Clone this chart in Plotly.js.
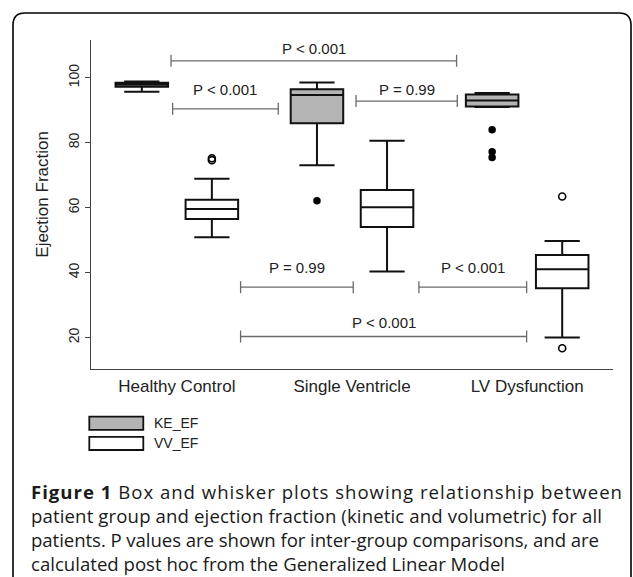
<!DOCTYPE html>
<html><head><meta charset="utf-8">
<script src="https://cdn.plot.ly/plotly-3.0.1.min.js"></script>
<style>html,body{margin:0;padding:0;background:#fff;overflow:hidden}#chart{width:633px;height:577px}</style>
</head><body><div id="chart"></div>
<script>
// ---------- data ----------
const categories = ['Healthy Control', 'Single Ventricle', 'LV Dysfunction'];
const seriesNames = ['KE_EF', 'VV_EF'];

// KE_EF (kinetic) box statistics per category
const keLower  = [95.7, 73.0, 91.0];
const keQ1     = [97.2, 86.0, 91.1];
const keMedian = [97.9, 94.7, 93.0];
const keQ3     = [98.4, 96.4, 94.8];
const keUpper  = [98.8, 98.5, 95.3];
const keOutlierCat   = [1, 2, 2, 2];
const keOutlierValue = [62.1, 84.0, 77.2, 75.4];

// VV_EF (volumetric) box statistics per category
const vvLower  = [50.9, 40.3, 20.0];
const vvQ1     = [56.5, 54.0, 35.2];
const vvMedian = [59.6, 60.1, 41.0];
const vvQ3     = [62.4, 65.4, 45.4];
const vvUpper  = [68.9, 80.6, 49.7];
const vvOutlierCat   = [0, 0, 2, 2];
const vvOutlierValue = [75.2, 74.6, 63.4, 16.7];

// inter-group comparisons
const pLabels     = ['P < 0.001', 'P < 0.001', 'P = 0.99', 'P = 0.99', 'P < 0.001', 'P < 0.001'];
const pStart      = [0.967, 0.976, 2.023, 1.364, 2.382, 1.364];
const pEnd        = [2.597, 1.579, 2.601, 2.007, 2.997, 2.997];
const pLevel      = [105.2, 90.4, 92.8, 35.5, 35.5, 20.3];
const pLabelLevel = [109.0, 96.4, 96.4, 41.4, 41.4, 24.6];

const yTicks = [20, 40, 60, 80, 100];
const yTitle = 'Ejection Fraction';
const captionBold = 'Figure 1';
const captionLines = [
  ' Box and whisker plots showing relationship between',
  'patient group and ejection fraction (kinetic and volumetric) for all',
  'patients. P values are shown for inter-group comparisons, and are',
  'calculated post hoc from the Generalized Linear Model'
];

// ---------- layout geometry ----------
const W = 633, H = 577;
const M = {l: 91, r: 20, t: 40, b: 208};
const PW = W - M.l - M.r, PH = H - M.t - M.b;
const px = x => (x - M.l) / PW;           // pixel -> paper x
const py = y => (H - M.b - y) / PH;       // pixel -> paper y
const OFF = 0.2, BW = 0.3;
const FONT = 'Liberation Sans, Arial, sans-serif';
const KE_FILL = '#b4b4b4';
const INK = '#111';

const traces = [];
traces.push({
  type: 'box', name: seriesNames[0],
  x: categories.map((c, i) => i + 1 - OFF),
  lowerfence: keLower, q1: keQ1, median: keMedian, q3: keQ3, upperfence: keUpper,
  width: BW, whiskerwidth: 0.67, fillcolor: KE_FILL,
  line: {color: INK, width: 2}, boxpoints: false, showlegend: false, hoverinfo: 'y'
});
traces.push({
  type: 'box', name: seriesNames[1],
  x: categories.map((c, i) => i + 1 + OFF),
  lowerfence: vvLower, q1: vvQ1, median: vvMedian, q3: vvQ3, upperfence: vvUpper,
  width: BW, whiskerwidth: 0.67, fillcolor: '#ffffff',
  line: {color: INK, width: 2}, boxpoints: false, showlegend: false, hoverinfo: 'y'
});
traces.push({
  type: 'scatter', mode: 'markers', name: seriesNames[0] + ' outliers',
  x: keOutlierCat.map(i => i + 1 - OFF), y: keOutlierValue,
  marker: {symbol: 'circle', size: 7.5, color: '#000'}, showlegend: false, hoverinfo: 'y'
});
traces.push({
  type: 'scatter', mode: 'markers', name: seriesNames[1] + ' outliers',
  x: vvOutlierCat.map(i => i + 1 + OFF), y: vvOutlierValue,
  marker: {symbol: 'circle-open', size: 7, color: '#000', line: {width: 1.6, color: '#000'}},
  showlegend: false, hoverinfo: 'y'
});

// comparison brackets
const TICKH = 1.85;
const bx = [], by = [];
pLabels.forEach((l, i) => {
  bx.push(pStart[i], pStart[i], null, pStart[i], pEnd[i], null, pEnd[i], pEnd[i], null);
  by.push(pLevel[i] - TICKH, pLevel[i] + TICKH, null, pLevel[i], pLevel[i], null, pLevel[i] - TICKH, pLevel[i] + TICKH, null);
});
traces.push({
  type: 'scatter', mode: 'lines', x: bx, y: by, line: {color: '#6a6a6a', width: 1.3},
  showlegend: false, hoverinfo: 'skip', connectgaps: false
});

const annotations = pLabels.map((l, i) => ({
  text: l, x: (pStart[i] + pEnd[i]) / 2, y: pLabelLevel[i], xref: 'x', yref: 'y',
  showarrow: false, xanchor: 'center', yanchor: 'middle',
  font: {family: FONT, size: 15, color: '#222'}
}));

// y title
annotations.push({
  text: yTitle, xref: 'paper', yref: 'paper', x: px(41.7), y: py(194),
  textangle: -90, showarrow: false, xanchor: 'center', yanchor: 'middle',
  font: {family: FONT, size: 17, color: '#222'}
});

// legend (drawn to match the R-style legend)
const legendRows = [423.3, 443.4];
const legendFills = [KE_FILL, '#ffffff'];
const shapes = [];
seriesNames.forEach((s, i) => {
  shapes.push({
    type: 'rect', xref: 'paper', yref: 'paper',
    x0: px(89.3), x1: px(143.3), y0: py(legendRows[i] - 6.6), y1: py(legendRows[i] + 6.6),
    fillcolor: legendFills[i], line: {color: INK, width: 1.8}
  });
  annotations.push({
    text: s, xref: 'paper', yref: 'paper', x: px(152), y: py(legendRows[i]),
    showarrow: false, xanchor: 'left', yanchor: 'middle',
    font: {family: FONT, size: 14, color: '#222'}
  });
});

// caption
const capY = [491, 515.2, 539.4, 563.6];
const capWidth = [591, 571, 568, 0];   // justified line widths (0 = natural)
const capStartIdx = annotations.length;
captionLines.forEach((t, i) => {
  annotations.push({
    text: (i === 0 ? '<b>' + captionBold + '</b>' : '') + t,
    xref: 'paper', yref: 'paper', x: px(29), y: py(capY[i]),
    showarrow: false, xanchor: 'left', yanchor: 'middle', align: 'left',
    font: {family: 'Open Sans, sans-serif', size: 18.6, color: '#1a1a1a'}
  });
});

// outer rounded frame
const fr = {l: 13, t: 13, r: 631, b: 620, rad: 12};
const P = (x, y) => px(x) + ',' + py(y);
shapes.push({
  type: 'path', xref: 'paper', yref: 'paper',
  path: 'M' + P(fr.l, fr.b) + ' L' + P(fr.l, fr.t + fr.rad) +
        ' Q' + P(fr.l, fr.t) + ' ' + P(fr.l + fr.rad, fr.t) +
        ' L' + P(fr.r - fr.rad, fr.t) +
        ' Q' + P(fr.r, fr.t) + ' ' + P(fr.r, fr.t + fr.rad) +
        ' L' + P(fr.r, fr.b),
  line: {color: '#000', width: 1.6}
});

const layout = {
  width: W, height: H, margin: M,
  paper_bgcolor: '#fff', plot_bgcolor: '#fff',
  showlegend: false,
  xaxis: {
    range: [0.51, 3.49], tickvals: categories.map((c, i) => i + 1), ticktext: categories,
    showgrid: false, zeroline: false, showline: true, linecolor: '#444', linewidth: 1.3,
    ticks: '', ticklabelstandoff: 1,
    tickfont: {family: FONT, size: 17, color: '#222'}
  },
  yaxis: {
    range: [10.3, 111.6], tickvals: yTicks, ticktext: yTicks.map(String),
    showgrid: false, zeroline: false, showline: true, linecolor: '#444', linewidth: 1.3,
    ticks: 'outside', ticklen: 5, tickcolor: '#444', tickwidth: 1.2, tickangle: -90,
    tickfont: {family: FONT, size: 14, color: '#222'}
  },
  annotations: annotations,
  shapes: shapes
};

Plotly.newPlot('chart', traces, layout, {displayModeBar: false, staticPlot: true}).then(gd => {
  // justify the caption lines like the printed figure
  const groups = gd.querySelectorAll('.annotation');
  groups.forEach(g => {
    const idx = +g.getAttribute('data-index');
    const k = idx - capStartIdx;
    if (k >= 0 && k < capWidth.length && capWidth[k] > 0) {
      const t = g.querySelector('text.annotation-text');
      if (t) {
        t.setAttribute('textLength', capWidth[k]);
        t.setAttribute('lengthAdjust', 'spacing');
      }
    }
  });
});
</script>
</body></html>
